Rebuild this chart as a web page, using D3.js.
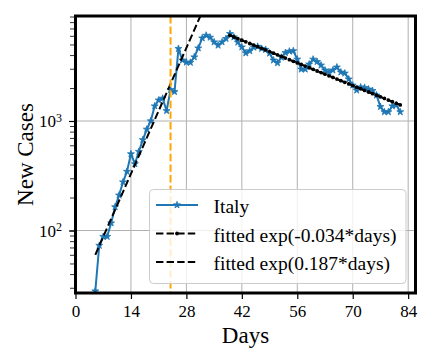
<!DOCTYPE html>
<html>
<head>
<meta charset="utf-8">
<script src="https://cdn.jsdelivr.net/npm/d3@7"></script>
<style>
    body { margin: 0; background: #fff; }
    text { font-family: "Liberation Serif", "Times New Roman", serif; fill: #000; }
</style>
</head>
<body>
<svg id="chart" width="432" height="360"></svg>
<script>
// daily new cases
var days = [5, 6, 7, 8, 9, 10, 11, 12, 13, 14, 15, 16, 17, 18, 19, 20, 21, 22, 23, 24,
    25, 26, 27, 28, 29, 30, 31, 32, 33, 34, 35, 36, 37, 38, 39, 40, 41, 42, 43, 44,
    45, 46, 47, 48, 49, 50, 51, 52, 53, 54, 55, 56, 57, 58, 59, 60, 61, 62, 63, 64,
    65, 66, 67, 68, 69, 70, 71, 72, 73, 74, 75, 76, 77, 78, 79, 80, 81, 82];
var italyCases = [28, 73, 88, 88, 117, 164, 210, 277, 346, 500, 406, 526, 673, 840, 1000, 1370, 1550, 1610, 1240, 1930,
    1850, 4580, 3590, 3440, 3420, 3840, 4630, 5710, 6050, 5800, 5260, 4910, 5260, 5650, 6270, 5840, 5230, 4730, 4170, 4360,
    4710, 4790, 4580, 4490, 4150, 3590, 3390, 3810, 4200, 4330, 4370, 3660, 2970, 2970, 3300, 3660, 3480, 3230, 2910, 2790,
    2910, 3100, 2790, 2730, 2410, 2120, 1910, 2040, 2020, 1950, 1890, 1720, 1350, 1210, 1210, 1370, 1400, 1210];

// decaying fit, one dot per day
var decayDays = [39, 40, 41, 42, 43, 44, 45, 46, 47, 48, 49, 50, 51, 52, 53, 54, 55, 56, 57, 58, 59, 60,
    61, 62, 63, 64, 65, 66, 67, 68, 69, 70, 71, 72, 73, 74, 75, 76, 77, 78, 79, 80, 81, 82];
var decayFit = [6050, 5848, 5652, 5463, 5281, 5104, 4933, 4768, 4609, 4455, 4306, 4162, 4023, 3888, 3758, 3633, 3511, 3394, 3280, 3171, 3065, 2962,
    2863, 2767, 2675, 2585, 2499, 2415, 2334, 2256, 2181, 2108, 2038, 1970, 1904, 1840, 1778, 1719, 1661, 1606, 1552, 1500, 1450, 1402];

// growing fit, straight on a log axis
var growthDays = [5, 33];
var growthFit = [60, 12000];

var cutoffDay = 24;
var xTicks = [0, 14, 28, 42, 56, 70, 84];
var yTicks = [100, 1000];
var yTickExp = ["2", "3"];
var legendLabels = ["Italy", "fitted exp(-0.034*days)", "fitted exp(0.187*days)"];

var svg = d3.select("#chart");
var margin = {top: 16, right: 16.5, bottom: 67, left: 75.5};
var width = 432 - margin.left - margin.right;
var height = 360 - margin.top - margin.bottom;

var x = d3.scaleLinear().domain([0, 85.85]).range([0, width]);
var y = d3.scaleLog().domain([26.87, 9097]).range([height, 0]);

var root = svg.append("g")
    .attr("transform", "translate(" + margin.left + "," + margin.top + ")");

root.append("clipPath").attr("id", "clip")
    .append("rect").attr("width", width).attr("height", height);

// grid
root.append("g").selectAll("line")
    .data(xTicks).enter().append("line")
    .attr("x1", x).attr("x2", x)
    .attr("y1", 0).attr("y2", height)
    .attr("stroke", "#b0b0b0").attr("stroke-width", 1);
root.append("g").selectAll("line")
    .data(yTicks).enter().append("line")
    .attr("y1", y).attr("y2", y)
    .attr("x1", 0).attr("x2", width)
    .attr("stroke", "#b0b0b0").attr("stroke-width", 1);

var plot = root.append("g").attr("clip-path", "url(#clip)");

var blue = "#1f77b4";
var italy = days.map(function (d, i) { return [d, italyCases[i]]; });
var decay = decayDays.map(function (d, i) { return [d, decayFit[i]]; });
var growth = growthDays.map(function (d, i) { return [d, growthFit[i]]; });

var line = d3.line()
    .x(function (d) { return x(d[0]); })
    .y(function (d) { return y(d[1]); });
var star = d3.symbol().type(d3.symbolStar).size(15);

plot.append("path")
    .attr("d", line(italy))
    .attr("fill", "none")
    .attr("stroke", blue)
    .attr("stroke-width", 2);
plot.append("g").selectAll("path")
    .data(italy).enter().append("path")
    .attr("d", star)
    .attr("transform", function (d) { return "translate(" + x(d[0]) + "," + y(d[1]) + ")"; })
    .attr("fill", blue).attr("stroke", blue).attr("stroke-width", 0.8);

plot.append("path")
    .attr("d", line(decay))
    .attr("fill", "none")
    .attr("stroke", "#000")
    .attr("stroke-width", 2)
    .attr("stroke-dasharray", "7.4,3.2");
plot.append("g").selectAll("circle")
    .data(decay).enter().append("circle")
    .attr("cx", function (d) { return x(d[0]); })
    .attr("cy", function (d) { return y(d[1]); })
    .attr("r", 1.9)
    .attr("fill", "#000");

plot.append("path")
    .attr("d", line(growth))
    .attr("fill", "none")
    .attr("stroke", "#000")
    .attr("stroke-width", 2)
    .attr("stroke-dasharray", "7.4,3.2");

plot.append("line")
    .attr("x1", x(cutoffDay)).attr("x2", x(cutoffDay))
    .attr("y1", 0).attr("y2", height)
    .attr("stroke", "orange")
    .attr("stroke-width", 2)
    .attr("stroke-dasharray", "7.4,3.2");

// axes
var xAxis = root.append("g")
    .attr("transform", "translate(0," + height + ")")
    .call(d3.axisBottom(x).tickValues(xTicks).tickSize(6).tickFormat(d3.format("d")));
xAxis.select(".domain").remove();
xAxis.selectAll("line").attr("stroke-width", 1.2);
xAxis.selectAll("text")
    .attr("y", 23.5).attr("dy", null)
    .style("font-size", "17px")
    .style("font-family", "Liberation Serif");

var yMinor = root.append("g")
    .call(d3.axisLeft(y).tickSize(5.5).tickFormat(""));
yMinor.select(".domain").remove();
yMinor.selectAll("line").attr("stroke-width", 0.8);

var yAxis = root.append("g")
    .call(d3.axisLeft(y).tickValues(yTicks).tickSize(6.5).tickFormat(""));
yAxis.select(".domain").remove();
yAxis.selectAll("line").attr("stroke-width", 1.2);
yAxis.selectAll(".tick").append("text")
    .attr("x", -13.5)
    .attr("dy", "0.33em")
    .attr("text-anchor", "end")
    .style("font-size", "17px")
    .each(function (d, i) {
        var t = d3.select(this);
        t.append("tspan").text("10");
        t.append("tspan").attr("dy", "-0.45em").style("font-size", "12px").text(yTickExp[i]);
    });

// frame
root.append("rect")
    .attr("width", width).attr("height", height)
    .attr("fill", "none")
    .attr("stroke", "#000")
    .attr("stroke-width", 3);

svg.append("text")
    .attr("x", margin.left + width / 2)
    .attr("y", 343)
    .attr("text-anchor", "middle")
    .style("font-size", "23px")
    .text("Days");
svg.append("text")
    .attr("transform", "translate(33," + (margin.top + height / 2) + ") rotate(-90)")
    .attr("text-anchor", "middle")
    .style("font-size", "23px")
    .text("New Cases");

// legend
var legend = svg.append("g");
legend.append("rect")
    .attr("x", 149.5).attr("y", 189.5)
    .attr("width", 256.5).attr("height", 94)
    .attr("rx", 4).attr("ry", 4)
    .attr("fill", "#fff").attr("fill-opacity", 0.8)
    .attr("stroke", "#cccccc").attr("stroke-width", 1);

var rowY = [205, 233.5, 262];
legendLabels.forEach(function (label, i) {
    var g = legend.append("g").attr("transform", "translate(0," + rowY[i] + ")");
    var l = g.append("line")
        .attr("x1", 156).attr("x2", 198)
        .attr("stroke-width", 2);
    if (i === 0) {
        l.attr("stroke", blue);
        g.append("path").attr("d", star)
            .attr("transform", "translate(177,0)")
            .attr("fill", blue).attr("stroke", blue).attr("stroke-width", 0.8);
    } else {
        l.attr("stroke", "#000").attr("stroke-dasharray", "7.4,3.2");
        if (i === 1) {
            g.append("circle").attr("cx", 177).attr("cy", 0).attr("r", 1.9).attr("fill", "#000");
        }
    }
    g.append("text")
        .attr("x", 213.5).attr("y", 8)
        .style("font-size", "19.5px")
        .text(label);
});
</script>
</body>
</html>
